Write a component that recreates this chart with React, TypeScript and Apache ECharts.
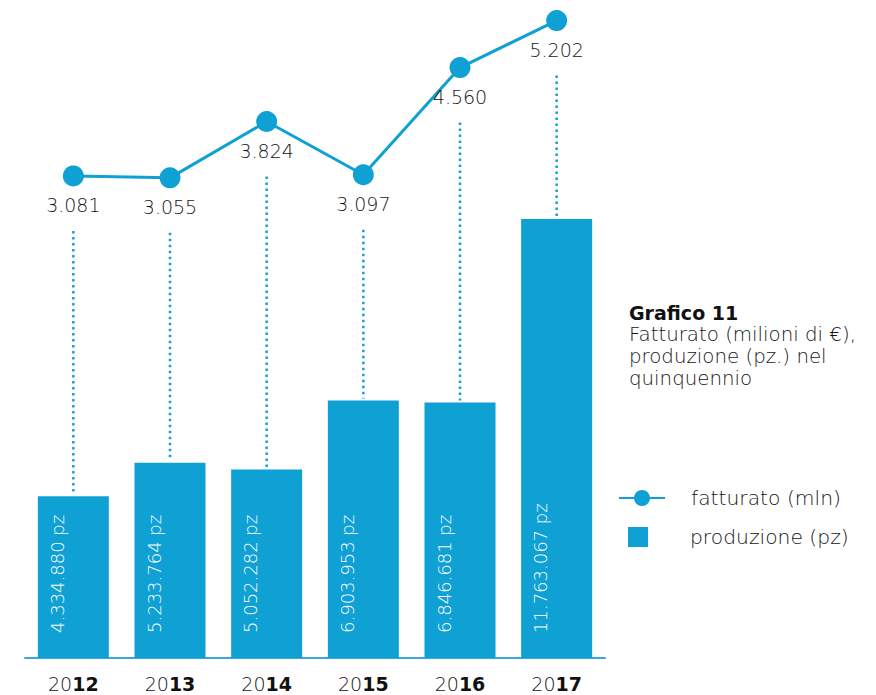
import React, { useEffect, useRef } from "react";
import * as echarts from "echarts";

const years = ["2012", "2013", "2014", "2015", "2016", "2017"];
const production = [4334880, 5233764, 5052282, 6903953, 6846681, 11763067];
const revenue = [3081, 3055, 3824, 3097, 4560, 5202];

const LINE_MIN = -3500;
const LINE_MAX = 5210;
const BAR_MAX = 17100000;
const BLUE = "#0fa0d4";
const FONT = "DejaVu Sans";
const TEXT = "#151515";

const fmt = (n: number) => String(n).replace(/\B(?=(\d{3})+(?!\d))/g, ".");

export default function App() {
  const ref = useRef<HTMLDivElement>(null);
  useEffect(() => {
    const chart = echarts.init(ref.current!, null, { renderer: "svg" });
    chart.setOption({
      animation: false,
      textStyle: { fontFamily: FONT },
      title: {
        left: 629,
        top: 302,
        text: "Grafico 11",
        subtext: "Fatturato (milioni di €),\nproduzione (pz.) nel\nquinquennio",
        itemGap: 0,
        padding: 0,
        textStyle: { fontFamily: FONT, fontSize: 19, fontWeight: "bold", color: "#111", lineHeight: 22 },
        subtextStyle: { fontFamily: FONT, fontSize: 19.8, fontWeight: 300, color: TEXT, lineHeight: 21.6 },
      },
      legend: [
        {
          data: ["fatturato (mln)"],
          left: 618,
          top: 488,
          padding: 0,
          orient: "vertical",
          itemWidth: 46,
          itemHeight: 20,
          textStyle: { fontFamily: FONT, fontSize: 20.3, fontWeight: 300, color: TEXT, padding: [0, 0, 0, 21] },
        },
        {
          data: [{ name: "produzione (pz)", icon: "rect" }],
          left: 628,
          top: 527,
          padding: 0,
          orient: "vertical",
          itemWidth: 20,
          itemHeight: 20,
          textStyle: { fontFamily: FONT, fontSize: 20.3, fontWeight: 300, color: TEXT, padding: [0, 0, 0, 37] },
        },
      ],
      grid: { left: 25, right: 271, top: 20, bottom: 37, containLabel: false },
      xAxis: {
        type: "category",
        data: years,
        boundaryGap: true,
        axisLine: { lineStyle: { color: "#3aa8d8", width: 2 } },
        axisTick: { show: false },
        axisLabel: {
          interval: 0,
          margin: 16,
          fontWeight: "normal",
          formatter: (v: string) => `{a|${v.slice(0, 2)}}{b|${v.slice(2)}}`,
          rich: {
            a: { fontFamily: FONT, fontSize: 19, color: "#111", fontWeight: 300 },
            b: { fontFamily: FONT, fontSize: 19, color: "#111", fontWeight: "bold" },
          },
        },
      },
      yAxis: [
        { type: "value", min: 0, max: BAR_MAX, show: false, splitLine: { show: false } },
        { type: "value", min: LINE_MIN, max: LINE_MAX, show: false, splitLine: { show: false } },
      ],
      series: [
        {
          name: "produzione (pz)",
          type: "bar",
          data: production,
          barWidth: 71,
          itemStyle: { color: BLUE },
          label: {
            show: true,
            position: "insideBottom",
            distance: 25,
            rotate: 90,
            align: "left",
            verticalAlign: "middle",
            offset: [0, -16],
            color: "#fff",
            fontSize: 18,
            fontWeight: 300,
            fontFamily: FONT,
            formatter: (p: any) => fmt(p.value) + " pz",
          },
          z: 2,
        },
        {
          name: "dotted",
          type: "custom",
          xAxisIndex: 0,
          yAxisIndex: 0,
          silent: true,
          z: 1,
          data: years.map((_, i) => [i, production[i], revenue[i]]),
          renderItem: (params: any, api: any) => {
            const top = api.coord([api.value(0), api.value(1)]);
            const cs = params.coordSys;
            const ly = cs.y + (cs.height * (LINE_MAX - api.value(2))) / (LINE_MAX - LINE_MIN);
            return {
              type: "line",
              shape: { x1: top[0], y1: ly + 55, x2: top[0], y2: top[1] - 2 },
              style: { stroke: "#1a9fd4", lineWidth: 2.5, lineDash: [2.5, 3.5] },
            };
          },
        },
        {
          name: "fatturato (mln)",
          type: "line",
          yAxisIndex: 1,
          data: revenue,
          symbol: "circle",
          symbolSize: 21,
          lineStyle: { color: BLUE, width: 3 },
          itemStyle: { color: BLUE },
          label: {
            show: true,
            position: "bottom",
            distance: 9,
            fontSize: 19,
            fontWeight: 300,
            fontFamily: FONT,
            color: TEXT,
            formatter: (p: any) => fmt(p.value),
          },
          z: 3,
        },
      ],
    });
    return () => chart.dispose();
  }, []);
  return <div ref={ref} style={{ position: "absolute", left: 0, top: 0, width: 876, height: 695 }} />;
}
